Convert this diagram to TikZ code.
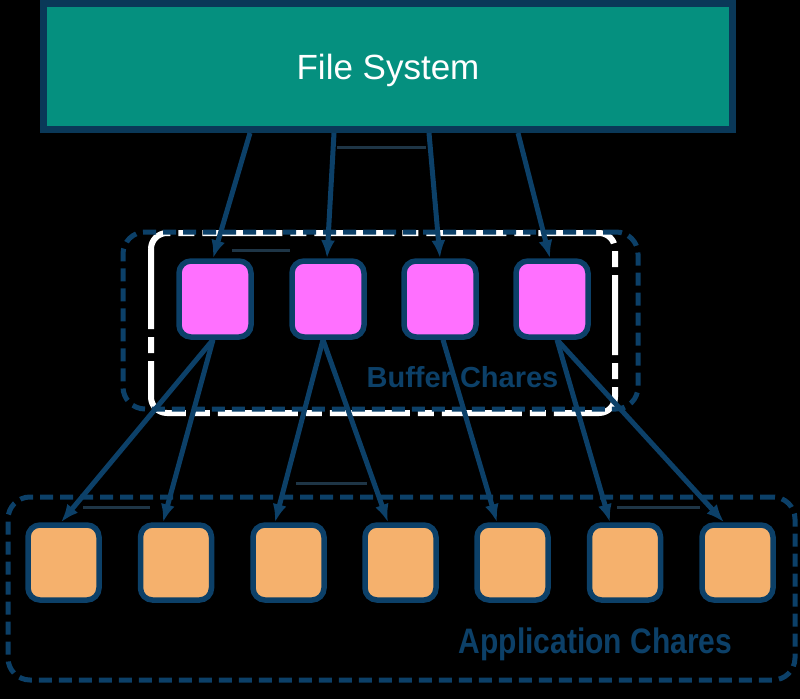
\documentclass[tikz,border=0pt]{standalone}
\usepackage{fontspec}
\setmainfont{Liberation Sans}
\usetikzlibrary{arrows.meta}
\definecolor{navy}{HTML}{0C4068}
\definecolor{navydark}{HTML}{0A3858}
\definecolor{tealfill}{HTML}{05907F}
\definecolor{pinkfill}{HTML}{FF70FF}
\definecolor{orangefill}{HTML}{F5B16D}
\definecolor{faintc}{HTML}{1E3546}
\begin{document}
\begin{tikzpicture}[x=1pt,y=-1pt,
  fsbox/.style={draw=navydark, fill=tealfill, line width=7pt, minimum width=689pt, minimum height=126pt, inner sep=0pt, text=white, text depth=0pt, font=\fontsize{35}{40}\selectfont},
  bufbox/.style={draw=navy, fill=pinkfill, line width=5.5pt, rounded corners=12pt, minimum width=72pt, minimum height=76pt, inner sep=0pt},
  appbox/.style={draw=navy, fill=orangefill, line width=5.5pt, rounded corners=12pt, minimum width=71pt, minimum height=75pt, inner sep=0pt},
  grp/.style={draw=navy, line width=5pt, dash pattern=on 13pt off 7pt, rounded corners=22pt, inner sep=0pt},
  arr/.style={draw=navy, line width=5pt, -{Latex[length=18pt,width=14pt]}},
  grplabel/.style={text=navy, anchor=base, inner sep=0pt, font=\bfseries},
  faint/.style={draw=faintc, line width=3pt}
]
\useasboundingbox (0,0) rectangle (800,699);
\fill[black] (0,0) rectangle (800,699);

% white ghost outline behind buffer group
\draw[white, line width=6pt, rounded corners=16pt, dash pattern=on 80pt off 8pt on 16pt off 8pt] (151,233) rectangle (615,413);

% groups
\node[grp, minimum width=515pt, minimum height=177pt] (bufgrp) at (380.5,320.5) {};
\node[grp, minimum width=787pt, minimum height=183pt] (appgrp) at (401.5,588.5) {};

% faint lines
\draw[faint] (337,147) -- (426,147);
\draw[faint] (232,250) -- (290,250);
\draw[faint] (296,483) -- (367,483);
\draw[faint] (83,507) -- (150,507);
\draw[faint] (617,507) -- (700,507);

% file system
\node[fsbox] (fs) at (388,66.5) {File System};

% buffer chares
\node[bufbox] (b1) at (215,299) {};
\node[bufbox] (b2) at (328,299) {};
\node[bufbox] (b3) at (440,299) {};
\node[bufbox] (b4) at (552,299) {};

% application chares
\node[appbox] (a1) at (63.5,562.5) {};
\node[appbox] (a2) at (176,562.5) {};
\node[appbox] (a3) at (288.5,562.5) {};
\node[appbox] (a4) at (400.5,562.5) {};
\node[appbox] (a5) at (512.5,562.5) {};
\node[appbox] (a6) at (625,562.5) {};
\node[appbox] (a7) at (737.5,562.5) {};

% labels
\node[grplabel, font=\bfseries\fontsize{29}{34}\selectfont] (buflabel) at (462.5,387) {Buffer Chares};
\node[grplabel, font=\bfseries\fontsize{30}{36}\selectfont] (applabel) at (595.5,653) {\scalebox{1}[1.18]{Application Chares}};

% arrows file system -> buffers
\draw[arr] ([xshift=-138pt]fs.south) -- ([xshift=-2pt]b1.north);
\draw[arr] ([xshift=-54pt]fs.south) -- ([xshift=-1pt]b2.north);
\draw[arr] ([xshift=41pt]fs.south) -- (b3.north);
\draw[arr] ([xshift=130pt]fs.south) -- ([xshift=-2pt]b4.north);

% arrows buffers -> application
\draw[arr] ([xshift=-2pt]b1.south) -- ([xshift=-2.5pt]a1.north);
\draw[arr] ([xshift=-2pt]b1.south) -- ([xshift=-13pt]a2.north);
\draw[arr] ([xshift=-5pt]b2.south) -- ([xshift=-13.5pt]a3.north);
\draw[arr] ([xshift=-5pt]b2.south) -- ([xshift=-12.5pt]a4.north);
\draw[arr] ([xshift=3pt]b3.south) -- ([xshift=-15.5pt]a5.north);
\draw[arr] ([xshift=5pt]b4.south) -- ([xshift=-15pt]a6.north);
\draw[arr] ([xshift=5pt]b4.south) -- ([xshift=-13.5pt]a7.north);
\end{tikzpicture}
\end{document}
